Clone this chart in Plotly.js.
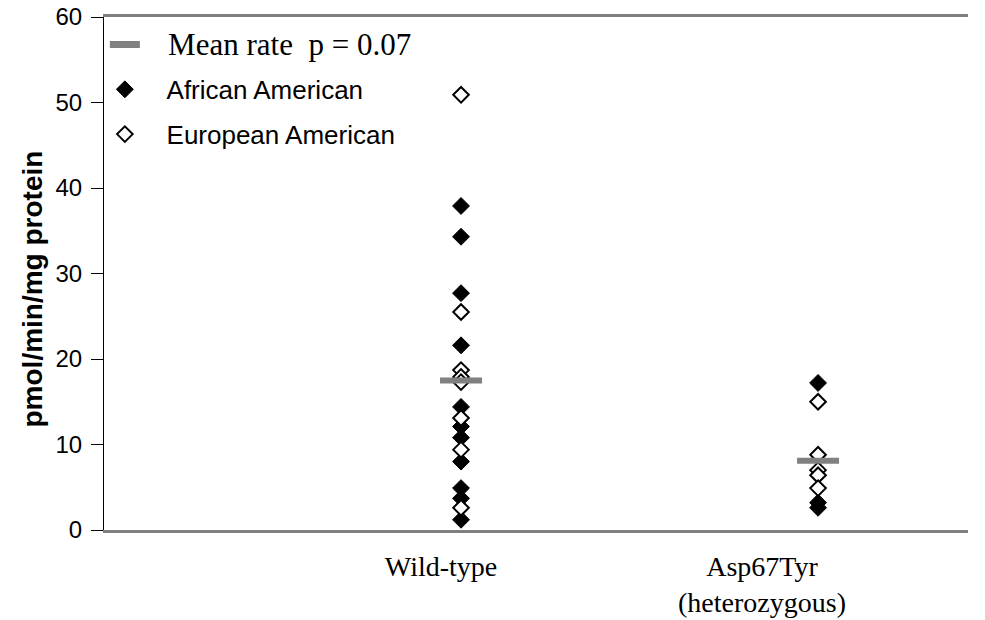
<!DOCTYPE html>
<html>
<head>
<meta charset="utf-8">
<script src="https://cdn.plot.ly/plotly-3.0.1.min.js"></script>
<style>html,body{margin:0;padding:0;background:#fff;}#chart{width:985px;height:620px;}</style>
</head>
<body>
<div id="chart"></div>
<script>
// Group positions
const groups = ["Wild-type", "Asp67Tyr<br>(heterozygous)"];
const groupX = [1, 2];
const labelX = [0.944, 1.843];

// Wild-type values (pmol/min/mg protein)
const wtAfrican = [37.9, 34.3, 27.7, 21.6, 14.4, 12.1, 10.8, 8.0, 4.9, 3.7, 1.2];
const wtEuropean = [50.9, 25.5, 18.7, 17.9, 17.3, 13.1, 9.4, 2.6];
// Asp67Tyr values
const aspAfrican = [17.2, 3.2, 2.6];
const aspEuropean = [15.0, 8.8, 7.0, 6.4, 4.9];
// Means
const means = [17.5, 8.1];

function xs(arr, x) { return arr.map(() => x); }
const pad = '\u00A0\u00A0\u00A0';

const meanLegend = {
  x: [null], y: [null], type: 'scatter', mode: 'lines',
  name: '<span style="font-family:\'Liberation Serif\',serif;font-size:31px">' + pad + 'Mean rate  p = 0.07</span>',
  legendgroup: 'a', legendrank: 1,
  line: {color: '#808080', width: 7}
};
const african = {
  x: xs(wtAfrican, groupX[0]).concat(xs(aspAfrican, groupX[1])),
  y: wtAfrican.concat(aspAfrican),
  type: 'scatter', mode: 'markers',
  name: pad + 'African American', legendgroup: 'b', legendrank: 2,
  marker: {symbol: 'diamond', size: 13, color: '#000', line: {color: '#000', width: 1}}
};
const european = {
  x: xs(wtEuropean, groupX[0]).concat(xs(aspEuropean, groupX[1])),
  y: wtEuropean.concat(aspEuropean),
  type: 'scatter', mode: 'markers',
  name: pad + 'European American', legendgroup: 'c', legendrank: 3,
  marker: {symbol: 'diamond', size: 12, color: '#fff', line: {color: '#000', width: 2}}
};
const meanTrace = {
  x: groupX, y: means,
  type: 'scatter', mode: 'markers', showlegend: false,
  name: 'Mean rate',
  marker: {symbol: 'line-ew', size: 30, color: '#808080', line: {color: '#808080', width: 6}}
};

const layout = {
  width: 985, height: 620,
  margin: {l: 104, r: 17, t: 17, b: 90},
  paper_bgcolor: '#fff', plot_bgcolor: '#fff',
  showlegend: true,
  legend: {x: 0.001, y: 0.992, xanchor: 'left', yanchor: 'top', bgcolor: 'rgba(0,0,0,0)',
           font: {family: 'Liberation Sans, Arial, sans-serif', size: 26, color: '#000'},
           itemwidth: 30, tracegroupgap: 8, traceorder: 'grouped'},
  xaxis: {
    range: [0, 2.42], showgrid: false, zeroline: false,
    tickmode: 'array', tickvals: labelX, ticktext: groups, ticks: '', ticklen: 0,
    ticklabelstandoff: 9,
    tickfont: {family: 'Liberation Serif, Times New Roman, serif', size: 28, color: '#000'},
    showline: true, linecolor: '#808080', linewidth: 3, mirror: true
  },
  yaxis: {
    range: [0, 60], dtick: 10, showgrid: false, zeroline: false,
    ticks: 'outside', ticklen: 12, tickcolor: '#000', tickwidth: 1,
    ticklabelstandoff: 4,
    tickfont: {family: 'Liberation Sans, Arial, sans-serif', size: 24, color: '#000'},
    showline: true, linecolor: '#000', linewidth: 1,
    title: {text: '<b>pmol/min/mg protein\u00A0\u00A0\u00A0\u00A0</b>', standoff: 4,
            font: {family: 'Liberation Sans, Arial, sans-serif', size: 28, color: '#000'}}
  }
};

Plotly.newPlot('chart', [meanLegend, african, european, meanTrace], layout, {displayModeBar: false});
</script>
</body>
</html>
